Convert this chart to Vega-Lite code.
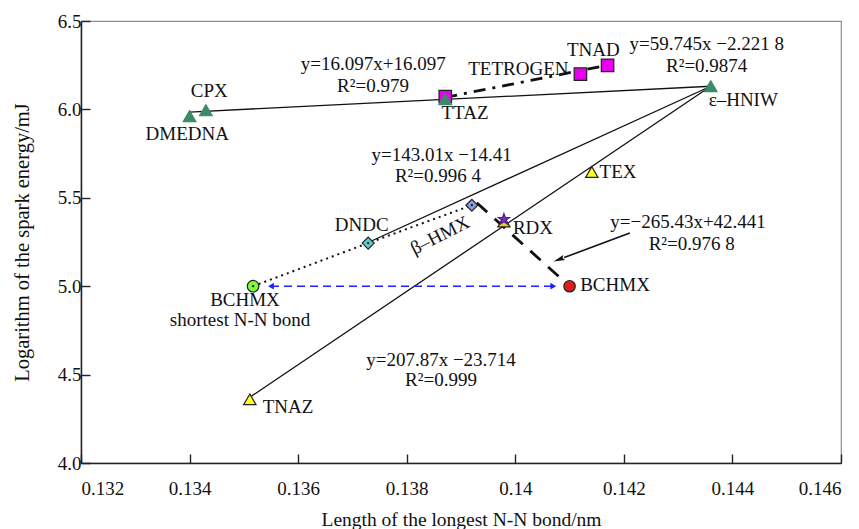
{
  "$schema": "https://vega.github.io/schema/vega-lite/v6.json",
  "width": 760,
  "height": 442,
  "autosize": {"type": "none"},
  "padding": {"left": 81, "top": 21, "right": 18, "bottom": 66},
  "background": "white",
  "config": {
    "view": {"stroke": "#8c8c8c", "strokeWidth": 1.2},
    "font": "Liberation Serif",
    "axis": {
      "grid": false,
      "domainColor": "#222",
      "domainWidth": 1.5,
      "tickColor": "#222",
      "tickWidth": 1.4,
      "tickSize": -9,
      "labelFont": "Liberation Serif",
      "titleFont": "Liberation Serif",
      "labelFontSize": 19,
      "labelColor": "#111",
      "titleColor": "#111",
      "titleFontWeight": "normal"
    }
  },
  "datasets": {
    "solid": [
      {"id": "a", "x": 0.1340, "y": 5.985},
      {"id": "a", "x": 0.1436, "y": 6.131},
      {"id": "b", "x": 0.13729, "y": 5.247},
      {"id": "b", "x": 0.1436, "y": 6.131},
      {"id": "c", "x": 0.13511, "y": 4.372},
      {"id": "c", "x": 0.1436, "y": 6.131}
    ],
    "dotted": [
      {"x": 0.13517, "y": 5.0},
      {"x": 0.13729, "y": 5.244},
      {"x": 0.1392, "y": 5.458}
    ],
    "dashed": [
      {"x": 0.13929, "y": 5.472},
      {"x": 0.14088, "y": 5.033}
    ],
    "dashdot": [
      {"x": 0.13871, "y": 6.068},
      {"x": 0.1416, "y": 6.244}
    ],
    "blue": [
      {"x": 0.1355, "y": 5.0},
      {"x": 0.1407, "y": 5.0}
    ],
    "arrow": [
      {"x": 0.14211, "y": 5.301},
      {"x": 0.1409, "y": 5.162}
    ],
    "arrowhead": [{"x": 0.14082, "y": 5.153}],
    "blueleft": [{"x": 0.1355, "y": 5.0}],
    "blueright": [{"x": 0.1407, "y": 5.0}],
    "points": [
      {"name": "DMEDNA", "type": "gtri", "x": 0.1340, "y": 5.962},
      {"name": "CPX", "type": "gtri", "x": 0.1343, "y": 5.995},
      {"name": "TTAZ", "type": "msq", "x": 0.13871, "y": 6.072},
      {"name": "TTAZ", "type": "gtri", "x": 0.13871, "y": 6.058},
      {"name": "ε-HNIW", "type": "gtri", "x": 0.1436, "y": 6.131},
      {"name": "TETROGEN", "type": "msq", "x": 0.1412, "y": 6.199},
      {"name": "TNAD", "type": "msq", "x": 0.1417, "y": 6.249},
      {"name": "TEX", "type": "ytri", "x": 0.14141, "y": 5.646},
      {"name": "TNAZ", "type": "ytri", "x": 0.13511, "y": 4.36},
      {"name": "DNDC", "type": "dcyan", "x": 0.13729, "y": 5.244},
      {"name": "β-HMX", "type": "dblue", "x": 0.1392, "y": 5.458},
      {"name": "RDX", "type": "ytri2", "x": 0.13979, "y": 5.365},
      {"name": "RDX", "type": "star", "x": 0.13979, "y": 5.378},
      {"name": "BCHMX shortest", "type": "cgreen", "x": 0.13517, "y": 5.0},
      {"name": "BCHMX", "type": "cred", "x": 0.1410, "y": 5.0}
    ],
    "dots": [
      {"x": 0.13517, "y": 5.0},
      {"x": 0.13729, "y": 5.244},
      {"x": 0.1392, "y": 5.458}
    ],
    "labels": [
      {"label": "CPX", "x": 0.134363, "y": 6.1024},
      {"label": "DMEDNA", "x": 0.133958, "y": 5.8631},
      {"label": "TTAZ", "x": 0.139074, "y": 5.978},
      {"label": "TETROGEN", "x": 0.140056, "y": 6.2308},
      {"label": "TNAD", "x": 0.141437, "y": 6.3382},
      {"label": "y=16.097x+16.097", "x": 0.137384, "y": 6.259},
      {"label": "R²=0.979", "x": 0.137379, "y": 6.1307},
      {"label": "y=59.745x −2.221 8", "x": 0.143526, "y": 6.3722},
      {"label": "R²=0.9874", "x": 0.143526, "y": 6.2438},
      {"label": "ε–HNIW", "x": 0.1442, "y": 6.0515},
      {"label": "y=143.01x −14.41", "x": 0.138644, "y": 5.7404},
      {"label": "R²=0.996 4", "x": 0.138576, "y": 5.6216},
      {"label": "TEX", "x": 0.141892, "y": 5.6459},
      {"label": "DNDC", "x": 0.137171, "y": 5.3445},
      {"label": "RDX", "x": 0.140326, "y": 5.3275},
      {"label": "y=−265.43x+42.441", "x": 0.143182, "y": 5.3631},
      {"label": "R²=0.976 8", "x": 0.14325, "y": 5.241},
      {"label": "BCHMX", "x": 0.141837, "y": 5.0051},
      {"label": "BCHMX", "x": 0.135021, "y": 4.9203},
      {"label": "shortest N-N bond", "x": 0.134929, "y": 4.8071},
      {"label": "y=207.87x −23.714", "x": 0.138632, "y": 4.5809},
      {"label": "R²=0.999", "x": 0.138632, "y": 4.4678},
      {"label": "TNAZ", "x": 0.135813, "y": 4.3167}
    ],
    "rotlabels": [
      {"label": "β–HMX", "x": 0.138613, "y": 5.2879}
    ]
  },
  "encoding": {
    "x": {
      "field": "x",
      "type": "quantitative",
      "scale": {"domain": [0.132, 0.146], "nice": false, "zero": false},
      "axis": {
        "values": [0.132, 0.134, 0.136, 0.138, 0.14, 0.142, 0.144, 0.146],
        "format": ".3~f",
        "title": "Length of the longest N-N bond/nm",
        "titleFontSize": 19.5,
        "labelPadding": 25,
        "titlePadding": 12
      }
    },
    "y": {
      "field": "y",
      "type": "quantitative",
      "scale": {"domain": [4.0, 6.5], "nice": false, "zero": false},
      "axis": {
        "values": [4.0, 4.5, 5.0, 5.5, 6.0, 6.5],
        "format": ".1f",
        "title": "Logarithm of the spark energy/mJ",
        "titleFontSize": 20.5,
        "labelPadding": 9,
        "titlePadding": 25
      }
    }
  },
  "layer": [
    {
      "data": {"name": "solid"},
      "mark": {"type": "line", "color": "#111", "strokeWidth": 1.3},
      "encoding": {"detail": {"field": "id"}}
    },
    {
      "data": {"name": "dotted"},
      "mark": {"type": "line", "color": "#111", "strokeWidth": 2, "strokeDash": [2, 4]}
    },
    {
      "data": {"name": "dashed"},
      "mark": {"type": "line", "color": "#111", "strokeWidth": 2.8, "strokeDash": [14, 10]}
    },
    {
      "data": {"name": "dashdot"},
      "mark": {"type": "line", "color": "#111", "strokeWidth": 2.8, "strokeDash": [12, 7, 3, 7]}
    },
    {
      "data": {"name": "blue"},
      "mark": {"type": "line", "color": "#1f1fff", "strokeWidth": 1.5, "strokeDash": [8, 5]}
    },
    {
      "data": {"name": "blueleft"},
      "mark": {"type": "point", "shape": "triangle-left", "filled": true, "color": "#1f1fff", "size": 45, "opacity": 1}
    },
    {
      "data": {"name": "blueright"},
      "mark": {"type": "point", "shape": "triangle-right", "filled": true, "color": "#1f1fff", "size": 45, "opacity": 1}
    },
    {
      "data": {"name": "arrow"},
      "mark": {"type": "line", "color": "#111", "strokeWidth": 1.6}
    },
    {
      "data": {"name": "arrowhead"},
      "mark": {"type": "point", "shape": "M0,-1L0.4,0.7L0,0.45L-0.4,0.7Z", "filled": true, "color": "#111", "size": 180, "angle": 249, "opacity": 1}
    },
    {
      "data": {"name": "points"},
      "mark": {"type": "point", "filled": true, "opacity": 1, "strokeWidth": 1.2},
      "encoding": {
        "shape": {
          "field": "type",
          "type": "nominal",
          "scale": {
            "domain": ["gtri", "msq", "ytri", "ytri2", "dcyan", "dblue", "star", "cgreen", "cred"],
            "range": ["triangle-up", "square", "triangle-up", "triangle-up", "diamond", "diamond", "M0,-1L0.235,-0.324L0.951,-0.309L0.38,0.124L0.588,0.809L0,0.4L-0.588,0.809L-0.38,0.124L-0.951,-0.309L-0.235,-0.324Z", "circle", "circle"]
          },
          "legend": null
        },
        "fill": {
          "field": "type",
          "type": "nominal",
          "scale": {
            "domain": ["gtri", "msq", "ytri", "ytri2", "dcyan", "dblue", "star", "cgreen", "cred"],
            "range": ["#3d8a68", "#e600f0", "#ffff1a", "#e8d21a", "#5cc8cc", "#8c9ee0", "#7a2bc2", "#7cfc3a", "#dd1c1c"]
          },
          "legend": null
        },
        "stroke": {
          "field": "type",
          "type": "nominal",
          "scale": {
            "domain": ["gtri", "msq", "ytri", "ytri2", "dcyan", "dblue", "star", "cgreen", "cred"],
            "range": ["#3d8a68", "#222222", "#222222", "#222222", "#222222", "#222222", "#552288", "#222222", "#222222"]
          },
          "legend": null
        },
        "size": {
          "field": "type",
          "type": "nominal",
          "scale": {
            "domain": ["gtri", "msq", "ytri", "ytri2", "dcyan", "dblue", "star", "cgreen", "cred"],
            "range": [160, 130, 110, 70, 85, 85, 45, 120, 130]
          },
          "legend": null
        }
      }
    },
    {
      "data": {"name": "dots"},
      "mark": {"type": "point", "shape": "circle", "filled": true, "color": "#111", "size": 5, "opacity": 1}
    },
    {
      "data": {"name": "labels"},
      "mark": {"type": "text", "font": "Liberation Serif", "fontSize": 19, "color": "#111", "align": "center", "baseline": "middle"},
      "encoding": {"text": {"field": "label"}}
    },
    {
      "data": {"name": "rotlabels"},
      "mark": {"type": "text", "font": "Liberation Serif", "fontSize": 19, "color": "#111", "align": "center", "baseline": "middle", "angle": -27},
      "encoding": {"text": {"field": "label"}}
    }
  ]
}
